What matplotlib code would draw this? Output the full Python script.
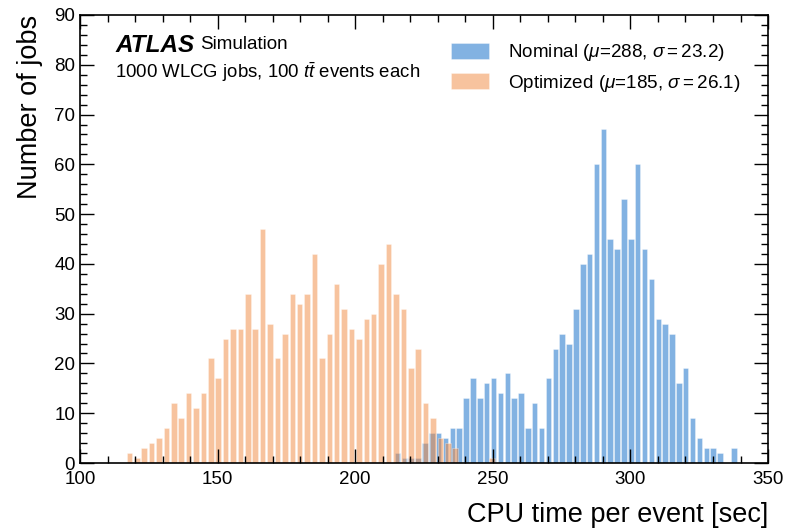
import numpy as np
import matplotlib
matplotlib.use("Agg")
import matplotlib.pyplot as plt
from matplotlib.ticker import MultipleLocator

plt.rcParams["font.family"] = ["Liberation Sans", "DejaVu Sans"]
plt.rcParams["mathtext.fontset"] = "custom"
plt.rcParams["mathtext.rm"] = "Liberation Sans"
plt.rcParams["mathtext.it"] = "Liberation Sans:italic"

# histogram contents (50 bins each)
nominal_range = (214.1, 338.8)
nominal_counts = [2, 1, 1, 1, 4, 6, 6, 5, 7, 7,
                  13, 17, 13, 16, 17, 14, 18, 13, 14, 7,
                  12, 7, 17, 23, 26, 24, 31, 40, 42, 60,
                  67, 45, 43, 53, 45, 60, 43, 37, 29, 28,
                  26, 16, 19, 9, 5, 3, 3, 2, 0, 3]
optimized_range = (116.6, 251.1)
optimized_counts = [2, 1, 3, 4, 5, 7, 12, 9, 14, 11,
                    14, 21, 17, 25, 27, 27, 34, 27, 47, 28,
                    21, 26, 34, 32, 34, 42, 21, 26, 36, 31,
                    27, 25, 29, 30, 40, 44, 34, 31, 19, 23,
                    12, 9, 5, 4, 3, 0, 0, 0, 0, 1]

labels = [r"Nominal ($\mu$=288, $\sigma = 23.2$)",
          r"Optimized ($\mu$=185, $\sigma = 26.1$)"]


def centers(rng, counts):
    edges = np.linspace(rng[0], rng[1], len(counts) + 1)
    return edges, (edges[:-1] + edges[1:]) / 2


fig = plt.figure(figsize=(7.9, 5.28), dpi=100)
ax = fig.add_axes([0.1013, 0.1231, 0.8709, 0.8485])

e1, c1 = centers(nominal_range, nominal_counts)
ax.hist(c1, bins=e1, weights=nominal_counts, rwidth=0.8,
        color="#2f7fd0", alpha=0.6, edgecolor="white", linewidth=0.4,
        label=labels[0])
e2, c2 = centers(optimized_range, optimized_counts)
ax.hist(c2, bins=e2, weights=optimized_counts, rwidth=0.75,
        color="#f0883e", alpha=0.5, edgecolor="white", linewidth=0.4,
        label=labels[1])

ax.set_xlim(100, 350)
ax.set_ylim(0, 90)
ax.xaxis.set_major_locator(MultipleLocator(50))
ax.xaxis.set_minor_locator(MultipleLocator(10))
ax.yaxis.set_major_locator(MultipleLocator(10))
ax.yaxis.set_minor_locator(MultipleLocator(2))
ax.tick_params(which="both", direction="in", top=True, right=True, labelsize=13.5)
ax.tick_params(which="major", length=10, width=1)
ax.tick_params(which="minor", length=5, width=1)
ax.tick_params(axis="x", pad=6)
for s in ax.spines.values():
    s.set_linewidth(1.2)

ax.set_xlabel("CPU time per event [sec]", fontsize=19.5, loc="right", labelpad=10)
ax.set_ylabel("Number of jobs", fontsize=19.5, loc="top", labelpad=8)

ax.text(0.051, 0.958, "ATLAS", transform=ax.transAxes, fontsize=17.5,
        fontweight="bold", fontstyle="italic", va="top")
ax.text(0.174, 0.953, "Simulation", transform=ax.transAxes, fontsize=13.6, va="top")
ax.text(0.051, 0.898, r"1000 WLCG jobs, 100 $t\bar{t}$ events each",
        transform=ax.transAxes, fontsize=13.4, va="top")

ax.legend(loc="upper right", bbox_to_anchor=(0.984, 0.977), frameon=False,
          fontsize=13.6, handlelength=2.0, handleheight=0.9, handletextpad=1.0,
          labelspacing=0.5)

fig.savefig("out.png", dpi=100)
